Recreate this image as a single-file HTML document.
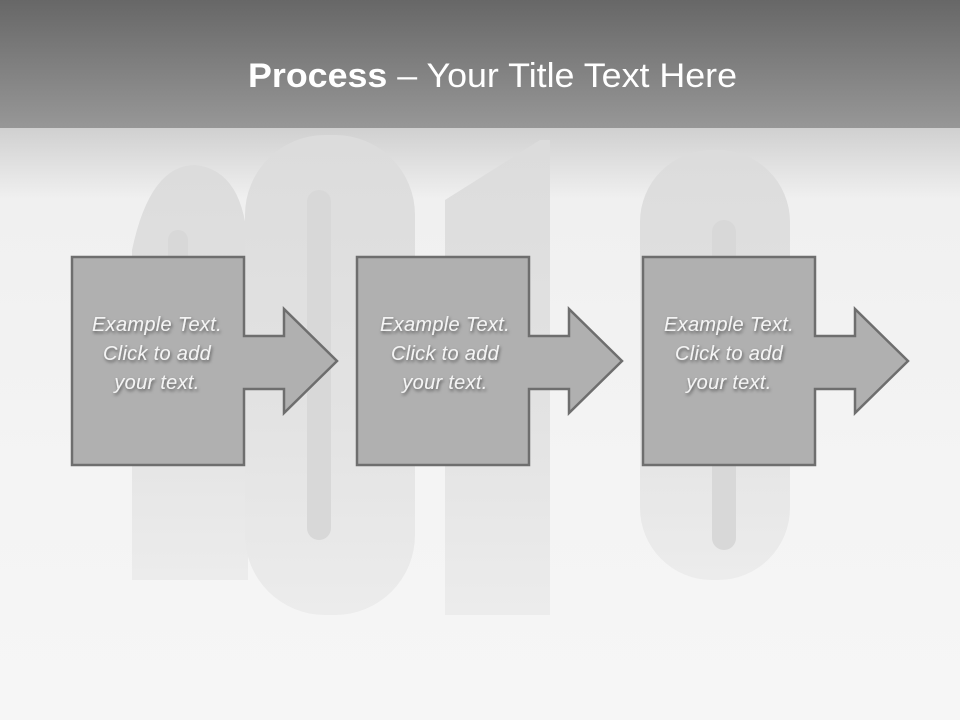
<!DOCTYPE html>
<html><head><meta charset="utf-8"><style>
html,body{margin:0;padding:0;width:960px;height:720px;overflow:hidden;background:#f2f2f2}
</style></head><body>
<svg width="960" height="720" viewBox="0 0 960 720" xmlns="http://www.w3.org/2000/svg">
<defs>
<linearGradient id="top" x1="0" y1="0" x2="0" y2="1">
<stop offset="0" stop-color="#676767"/><stop offset="1" stop-color="#979797"/></linearGradient>
<linearGradient id="bg" x1="0" y1="0" x2="0" y2="1">
<stop offset="0" stop-color="#d0d0d0"/><stop offset="0.12" stop-color="#f0f0f0"/><stop offset="0.6" stop-color="#f4f4f4"/><stop offset="1" stop-color="#f6f6f6"/></linearGradient>
<linearGradient id="dig" x1="0" y1="0" x2="0" y2="1">
<stop offset="0" stop-color="#dcdcdc"/><stop offset="0.6" stop-color="#e3e3e3"/><stop offset="1" stop-color="#ececec"/></linearGradient>
<filter id="ts" x="-10%" y="-10%" width="120%" height="140%"><feDropShadow dx="1" dy="2" stdDeviation="1.5" flood-color="#000" flood-opacity="0.5"/></filter>
</defs>
<rect x="0" y="128" width="960" height="592" fill="url(#bg)"/>
<g fill="url(#dig)">
<path d="M132 250 Q150 165 195 165 Q245 170 248 250 L248 580 L132 580 Z"/>
<rect x="245" y="135" width="170" height="480" rx="80"/>
<path d="M445 200 L540 140 L550 140 L550 615 L445 615 Z"/>
<rect x="640" y="150" width="150" height="430" rx="72"/>
</g>
<g fill="#d8d8d8">
<rect x="168" y="230" width="20" height="90" rx="10"/>
<rect x="307" y="190" width="24" height="350" rx="12"/>
<rect x="712" y="220" width="24" height="330" rx="12"/>
</g>
<rect x="0" y="0" width="960" height="128" fill="url(#top)"/>
<text x="248" y="87" textLength="489" lengthAdjust="spacingAndGlyphs" font-family="Liberation Sans, sans-serif" font-size="34" fill="#fff"><tspan font-weight="bold">Process</tspan> – Your Title Text Here</text>
<g fill="#b0b0b0" stroke="#6e6e6e" stroke-width="2.5" stroke-linejoin="miter">
<path d="M72 257 H244 V336 H284 V309 L337 361 L284 413 V389 H244 V465 H72 Z"/>
<path d="M357 257 H529 V336 H569 V309 L622 361 L569 413 V389 H529 V465 H357 Z"/>
<path d="M643 257 H815 V336 H855 V309 L908 361 L855 413 V389 H815 V465 H643 Z"/>
</g>
<g font-family="Liberation Sans, sans-serif" font-style="italic" font-size="20" fill="#f4f4f4" text-anchor="middle" filter="url(#ts)" letter-spacing="0.3">
<text x="157" y="331">Example Text.</text><text x="157" y="360">Click  to add</text><text x="157" y="389">your text.</text>
<text x="445" y="331">Example Text.</text><text x="445" y="360">Click  to add</text><text x="445" y="389">your text.</text>
<text x="729" y="331">Example Text.</text><text x="729" y="360">Click  to add</text><text x="729" y="389">your text.</text>
</g>
</svg>
</body></html>
